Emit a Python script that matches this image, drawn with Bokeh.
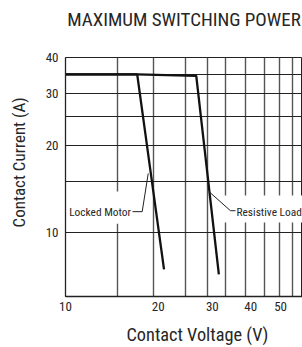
from bokeh.plotting import figure
from bokeh.models import FixedTicker, NumeralTickFormatter, Label, Title
from bokeh.embed import file_html
from bokeh.resources import INLINE

# ---- data ----
locked_x = [10, 17.1, 20.9]
locked_y = [35, 35, 7.5]
resistive_x = [10, 17.1, 26.6, 31.5]
resistive_y = [35, 35, 34.6, 7.2]

x_tick_labels = [10, 20, 30, 40, 50]
y_tick_labels = [10, 20, 30, 40]
x_grid_values = [14.76, 19.32, 24.54, 28.93, 33.10, 38.44, 44.32, 49.58, 54.64]
y_grid_values = [10, 15, 20, 25, 30, 35, 40]

FONT = "Roboto Condensed"
INK = "#262626"

# canvas a little larger than the window; negative margins trim the empty edges
p = figure(width=312, height=383, x_axis_type="log", y_axis_type="log",
           x_range=(10, 58.9), y_range=(6.05, 40),
           output_backend="svg", toolbar_location=None,
           min_border_left=75, min_border_right=0, min_border_top=80,
           min_border_bottom=64, margin=(-23, 0, -13, -10))
p.title.visible = False
p.outline_line_color = "#222222"
p.outline_line_width = 1
p.background_fill_color = "white"
p.border_fill_color = "white"

# grids
p.xgrid.ticker = FixedTicker(ticks=x_grid_values)
p.ygrid.ticker = FixedTicker(ticks=y_grid_values)
p.xgrid.grid_line_color = "#555555"
p.xgrid.grid_line_width = 1.4
p.ygrid.grid_line_color = "#222222"
p.ygrid.grid_line_width = 1.2

# axes
for ax in (p.xaxis[0], p.yaxis[0]):
    ax.major_tick_out = 0
    ax.major_tick_in = 0
    ax.minor_tick_out = 0
    ax.minor_tick_in = 0
    ax.axis_line_color = "#222222"
    ax.axis_line_width = 1.3
    ax.major_label_text_font = FONT
    ax.major_label_text_font_size = "13px"
    ax.major_label_text_color = INK
    ax.formatter = NumeralTickFormatter(format="0")
p.xaxis[0].ticker = FixedTicker(ticks=x_tick_labels)
p.yaxis[0].ticker = FixedTicker(ticks=y_tick_labels)
p.xaxis[0].major_label_standoff = 5
p.yaxis[0].major_label_standoff = 7

# main title
p.add_layout(Title(text="MAXIMUM SWITCHING POWER", align="center", vertical_align="bottom",
                   standoff=54, text_font=FONT, text_font_size="19px",
                   text_font_style="normal", text_color=INK), "above")

# x axis title
p.add_layout(Title(text="Contact Voltage (V)", align="left", offset=61, vertical_align="top",
                   standoff=20, text_font=FONT, text_font_size="18.3px",
                   text_font_style="normal", text_color=INK), "below")

# y axis title
p.add_layout(Title(text="Contact Current (A)", align="left", offset=69, vertical_align="bottom",
                   standoff=28, text_font=FONT, text_font_size="17px",
                   text_font_style="normal", text_color=INK), "left")

# white label backgrounds (hide grid lines behind the callouts)
p.quad(left=[10.15, 32.6], right=[17.92, 60], bottom=[10.76, 10.85], top=[13.86, 13.43],
       fill_color="white", line_color=None)

# curves
p.line(locked_x, locked_y, line_color="#111111", line_width=2.3)
p.line(resistive_x, resistive_y, line_color="#111111", line_width=2.3)

# leader lines
p.line([16.51, 17.75, 18.57], [11.83, 11.83, 16.0], line_color="#222222", line_width=1)
p.line([29.43, 34.36, 35.67], [13.78, 11.92, 11.92], line_color="#222222", line_width=1)

# callout texts
p.add_layout(Label(x=16.32, y=11.83, text="Locked Motor", text_align="right",
                   text_baseline="middle", text_font=FONT,
                   text_font_size="11.4px", text_color=INK))
p.add_layout(Label(x=35.94, y=11.83, text="Resistive Load", text_align="left",
                   text_baseline="middle", text_font=FONT,
                   text_font_size="11.4px", text_color=INK))

open("out.html", "w").write(file_html(p, INLINE))
